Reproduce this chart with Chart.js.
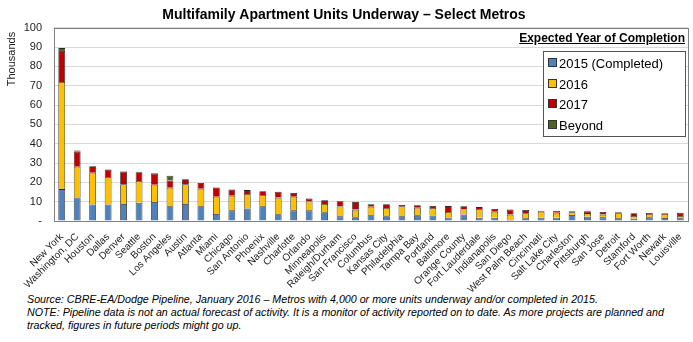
<!DOCTYPE html>
<html>
<head>
<meta charset="utf-8">
<script src="https://cdn.jsdelivr.net/npm/chart.js@4"></script>
<style>
    body { margin: 0; background: #fff; font-family: "Liberation Sans", Arial, sans-serif; }
    #page { position: relative; width: 693px; height: 342px; overflow: hidden; }
    #chart { position: absolute; left: 0; top: 0; }
    .legend-head { position: absolute; right: 8px; top: 31px; font: bold 12px "Liberation Sans", Arial, sans-serif; text-decoration: underline; color: #000; }
    .legend { position: absolute; left: 543px; top: 51px; width: 141px; height: 84px; border: 1px solid #555; background: #fff; }
    .legend .item { position: absolute; left: 4px; font-size: 13px; color: #000; line-height: 14px; }
    .legend .color { display: inline-block; width: 7px; height: 7px; border: 1px solid #333; margin-right: 2px; vertical-align: 1px; }
    .note { position: absolute; left: 27px; top: 293px; font: italic 10.7px "Liberation Sans", Arial, sans-serif; line-height: 13px; color: #000; }
</style>
</head>
<body>
<div id="page">
    <canvas id="chart" width="693" height="292"></canvas>
    <div class="legend-head">Expected Year of Completion</div>
    <div class="legend"></div>
    <div class="note">
        Source: CBRE-EA/Dodge Pipeline, January 2016 – Metros with 4,000 or more units underway and/or completed in 2015.<br>
        NOTE: Pipeline data is not an actual forecast of activity. It is a monitor of activity reported on to date. As more projects are planned and<br>
        tracked, figures in future periods might go up.
    </div>
</div>
<script>
// metros, in chart order
var metros = ["New York", "Washington, DC", "Houston", "Dallas", "Denver", "Seattle", "Boston", "Los Angeles",
    "Austin", "Atlanta", "Miami", "Chicago", "San Antonio", "Phoenix", "Nashville", "Charlotte", "Orlando",
    "Minneapolis", "Raleigh/Durham", "San Francisco", "Columbus", "Kansas City", "Philadelphia", "Tampa Bay",
    "Portland", "Baltimore", "Orange County", "Fort Lauderdale", "Indianapolis", "San Diego", "West Palm Beach",
    "Cincinnati", "Salt Lake City", "Charleston", "Pittsburgh", "San Jose", "Detroit", "Stamford", "Fort Worth",
    "Newark", "Louisville"];

// units in thousands
var units2015 = [16.5, 12.2, 8.6, 8.6, 8.8, 9.5, 9.8, 7.6, 8.8, 7.6, 3.6, 5.5, 6.5, 7.6, 3.5, 5.5, 5.5, 4.5, 2.4, 2.0,
    3.0, 2.5, 2.5, 3.0, 2.9, 1.8, 3.4, 1.7, 1.7, 0.5, 1.4, 1.7, 1.7, 3.1, 2.2, 1.9, 1.4, 1.2, 1.9, 1.6, 1.4];
var units2016 = [55.5, 15.9, 16.4, 14.2, 10.2, 11.2, 9.0, 9.6, 10.2, 9.1, 9.0, 7.6, 7.5, 5.9, 8.6, 7.1, 4.6, 4.3, 5.1, 3.9,
    4.4, 4.2, 5.1, 3.9, 3.8, 2.9, 2.6, 4.5, 3.1, 2.8, 2.6, 3.1, 2.6, 1.4, 1.9, 1.4, 2.6, 1.4, 1.7, 2.0, 1.2];
var units2017 = [16.0, 7.8, 3.4, 3.8, 6.5, 4.5, 5.7, 3.8, 2.6, 3.0, 4.8, 3.2, 2.0, 1.9, 3.1, 1.9, 1.5, 2.0, 2.7, 4.0,
    1.3, 2.0, 0.7, 1.3, 1.1, 3.0, 1.6, 1.0, 1.4, 2.6, 1.7, 0.5, 1.0, 0.5, 0.9, 1.4, 0.5, 1.4, 0.5, 0.4, 1.7];
var unitsBeyond = [1.5, 0.6, 0, 0, 0.3, 0.3, 0.3, 2.4, 0, 0, 0, 0, 0, 0, 0, 0, 0, 0, 0, 0,
    0, 0, 0, 0, 0, 0, 0, 0, 0, 0, 0, 0, 0, 0, 0, 0, 0, 0, 0, 0, 0];

var seriesLabels = ["2015 (Completed)", "2016", "2017", "Beyond"];
var seriesColors = ["#4F81BD", "#FFC000", "#C00000", "#4F6228"];
var yTicks = [0, 10, 20, 30, 40, 50, 60, 70, 80, 90, 100];

var fontName = "'Liberation Sans', Arial, sans-serif";

// box round the plot area, plus the rotated "Thousands" label
var plotBorder = {
    id: "plotBorder",
    beforeDatasetsDraw: function(chart) {
        var a = chart.chartArea;
        var ctx = chart.ctx;
        ctx.save();
        ctx.strokeStyle = "#808080";
        ctx.lineWidth = 1;
        ctx.strokeRect(Math.round(a.left) + 0.5, Math.round(a.top) + 0.5, Math.round(a.right - a.left), Math.round(a.bottom - a.top));
        ctx.restore();
    },
    afterDraw: function(chart) {
        var ctx = chart.ctx;
        ctx.save();
        ctx.translate(12, 59);
        ctx.rotate(-Math.PI / 2);
        ctx.fillStyle = "#222";
        ctx.font = "11px " + fontName;
        ctx.textAlign = "center";
        ctx.textBaseline = "middle";
        ctx.fillText("Thousands", 0, 0);
        ctx.restore();
    }
};

var allValues = [units2015, units2016, units2017, unitsBeyond];
var datasets = [];
allValues.forEach(function(values, i) {
    datasets.push({
        label: seriesLabels[i],
        data: values,
        backgroundColor: seriesColors[i],
        borderColor: "#262626",
        borderWidth: 0.8,
        barPercentage: 0.44,
        categoryPercentage: 1.0
    });
});

new Chart(document.getElementById("chart").getContext("2d"), {
    type: "bar",
    data: { labels: metros, datasets: datasets },
    plugins: [plotBorder],
    options: {
        responsive: false,
        animation: false,
        layout: { padding: { left: 0, right: 5, top: 0, bottom: 0 } },
        plugins: {
            legend: { display: false },
            tooltip: { enabled: false },
            title: {
                display: true,
                text: "Multifamily Apartment Units Underway – Select Metros",
                color: "#000",
                font: { family: fontName, size: 14, weight: "bold" },
                padding: { top: 7, bottom: 4 }
            }
        },
        scales: {
            x: {
                stacked: true,
                grid: { display: false },
                border: { display: false },
                ticks: {
                    color: "#222",
                    font: { family: fontName, size: 10 },
                    minRotation: 45,
                    maxRotation: 45,
                    autoSkip: false,
                    padding: 2
                },
                afterFit: function(scale) { scale.height = 71; }
            },
            y: {
                stacked: true,
                min: 0,
                max: 100,
                afterBuildTicks: function(scale) {
                    scale.ticks = yTicks.map(function(v) { return { value: v }; });
                },
                grid: { color: "#d9d9d9", drawTicks: false },
                border: { display: false },
                ticks: {
                    color: "#222",
                    font: { family: fontName, size: 11 },
                    padding: 12,
                    callback: function(v) { return v === 0 ? "-" : v; }
                },
                afterFit: function(scale) { scale.width = 54; }
            }
        }
    }
});

// legend built from the series arrays
var legendBox = document.querySelector(".legend");
var itemTops = [5, 26, 46, 67];
seriesLabels.forEach(function(label, i) {
    var item = document.createElement("div");
    item.className = "item";
    item.style.top = itemTops[i] + "px";
    var sw = document.createElement("span");
    sw.className = "color";
    sw.style.backgroundColor = seriesColors[i];
    item.appendChild(sw);
    item.appendChild(document.createTextNode(label));
    legendBox.appendChild(item);
});
</script>
</body>
</html>
